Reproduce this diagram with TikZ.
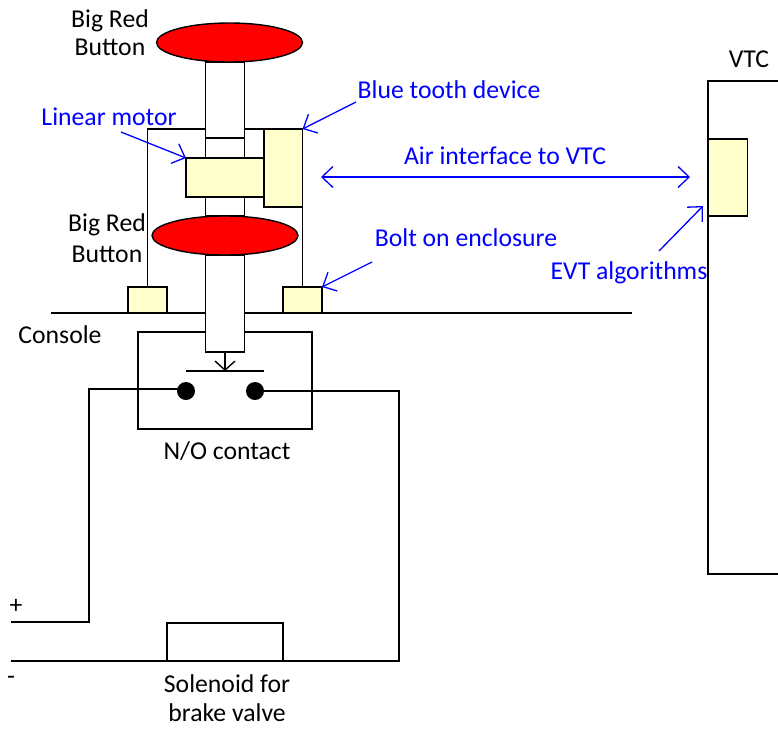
\documentclass[tikz,border=0pt]{standalone}
\usepackage{fontspec}
\setmainfont{Carlito}
\usetikzlibrary{arrows.meta,shapes.geometric}
\definecolor{cream}{HTML}{FFFFCC}
\tikzset{
	part/.style={draw,line width=1.4pt,fill=white,inner sep=0pt,outer sep=0pt,anchor=north west},
	creampart/.style={part,fill=cream},
	knob/.style={draw,line width=1.4pt,fill=red,ellipse,inner sep=0pt,outer sep=0pt,minimum width=146pt,minimum height=39pt},
	contactdot/.style={circle,fill=black,inner sep=0pt,minimum size=18pt},
	wire/.style={line width=1.4pt},
	callout/.style={blue,line width=1.3pt,-{Straight Barb[length=11pt,width=21pt]}},
	lbl/.style={inner sep=0pt,align=center,font=\fontsize{25.7}{29.5}\selectfont},
	bluelbl/.style={lbl,text=blue}
}
\begin{document}
\begin{tikzpicture}[x=1pt,y=-1pt]
	\useasboundingbox (0,0) rectangle (778,729);
	% bolts and bracket
	\node[creampart,minimum width=39pt,minimum height=26pt] (boltl) at (128,287) {};
	\node[creampart,minimum width=39pt,minimum height=26pt] (boltr) at (283,287) {};
	\coordinate (bracketl) at (147.5,129);
	\coordinate (bracketr) at (302.5,129);
	\draw[wire] (boltl.north) -- (bracketl) -- (bracketr) -- (boltr.north);
	% console and contact housing
	\coordinate (consolel) at (51,313);
	\coordinate (consoler) at (632,313);
	\draw[wire] (consolel) -- (consoler);
	\node[part,minimum width=174pt,minimum height=97pt] (housing) at (138,332) {};
	% plunger
	\node[part,minimum width=39pt,minimum height=78pt] (rod) at (205.5,138) {};
	\node[part,minimum width=39pt,minimum height=76pt] (shaftup) at (205.5,62) {};
	\node[part,minimum width=39pt,minimum height=97pt] (shaftlow) at (205.5,255) {};
	\node[creampart,minimum width=78pt,minimum height=39pt] (motor) at (186,158) {};
	\node[creampart,minimum width=38.5pt,minimum height=78pt] (bluetooth) at (264,129) {};
	\node[knob] (knobup) at (229.5,42.5) {};
	\node[knob] (knoblow) at (225,235.5) {};
	% contact
	\coordinate (barl) at (186,371);
	\coordinate (barr) at (264,371);
	\coordinate (barc) at (225,371);
	\draw[wire] (barl) -- (barr);
	\draw[wire,-{Straight Barb[length=9pt,width=20pt]}] (shaftlow.south) -- (barc);
	\node[contactdot] (dotl) at (186,391) {};
	\node[contactdot] (dotr) at (255,391) {};
	% circuit
	\coordinate (plus) at (11,622);
	\coordinate (plusup) at (89,622);
	\coordinate (plusin) at (89,389);
	\coordinate (minus) at (11,661);
	\coordinate (retdown) at (399,661);
	\coordinate (retup) at (399,391);
	\draw[wire] (plus) -- (plusup) -- (plusin) -- (plusin -| dotl);
	\draw[wire] (dotr) -- (retup) -- (retdown) -- (minus);
	\node[part,minimum width=116pt,minimum height=38pt] (solenoid) at (167,623) {};
	% VTC
	\coordinate (vtca) at (778,81);
	\coordinate (vtcb) at (708,81);
	\coordinate (vtcc) at (708,574);
	\coordinate (vtcd) at (778,574);
	\draw[wire] (vtca) -- (vtcb) -- (vtcc) -- (vtcd);
	\node[creampart,minimum width=39.5pt,minimum height=77pt] (evt) at (708,139) {};
	% black labels
	\node[lbl] (lbtop) at (110,33) {Big Red\\[-1.5pt]Button};
	\node[lbl] (lblow) at (107,238) {Big Red\\[1.5pt]Button};
	\node[lbl] (lconsole) at (60,335) {Console};
	\node[lbl] (lcontact) at (227,451) {N/O contact};
	\node[lbl] (lsolenoid) at (227,698) {Solenoid for\\brake valve};
	\node[lbl] (lvtc) at (749,59) {VTC};
	\node[lbl] (lplus) at (16,606) {+};
	\node[lbl] (lminus) at (11,680) {-};
	% blue labels and arrows
	\node[bluelbl] (lblue) at (449,90) {Blue tooth device};
	\node[bluelbl] (lmotor) at (109,117) {Linear motor};
	\node[bluelbl] (lair) at (505,156) {Air interface to VTC};
	\node[bluelbl] (lbolt) at (466,238) {Bolt on enclosure};
	\node[bluelbl] (levt) at (629,273) {EVT algorithms};
	\coordinate (fromblue) at (356,102);
	\coordinate (frommotor) at (121,132);
	\coordinate (frombolt) at (372,262);
	\coordinate (fromevt) at (659,251);
	\coordinate (toevt) at (703,206);
	\coordinate (airl) at (321,177);
	\coordinate (airr) at (690,177);
	\draw[callout] (fromblue) -- (bluetooth.north east);
	\draw[callout] (frommotor) -- (motor.north west);
	\draw[callout] (frombolt) -- (boltr.north east);
	\draw[callout] (fromevt) -- (toevt);
	\draw[callout,{Straight Barb[length=11pt,width=21pt]}-{Straight Barb[length=11pt,width=21pt]}] (airl) -- (airr);
\end{tikzpicture}
\end{document}
